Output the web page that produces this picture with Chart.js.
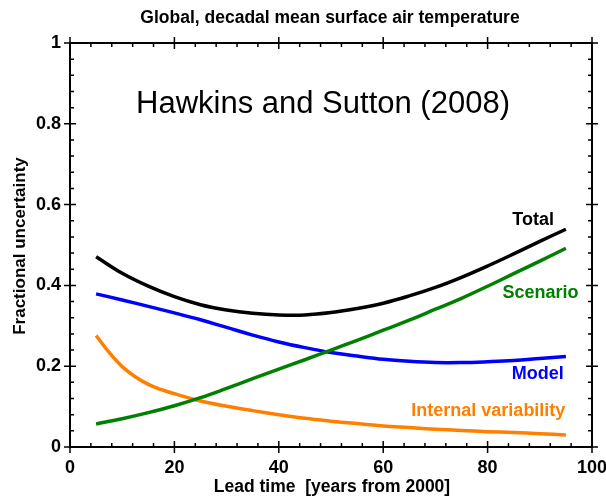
<!DOCTYPE html>
<html><head><meta charset="utf-8">
<script src="https://cdn.jsdelivr.net/npm/chart.js@4/dist/chart.umd.min.js"></script>
<style>html,body{margin:0;padding:0;background:#fff}canvas{display:block}</style>
</head><body>
<canvas id="c" width="606" height="499"></canvas>
<script>
// ---- data ----
const years    = [5,10,15,20,25,30,35,40,45,50,55,60,65,70,75,80,85,90,95];
const total    = [0.471,0.430,0.398,0.372,0.352,0.339,0.331,0.327,0.327,0.333,0.343,0.356,0.374,0.395,0.420,0.448,0.478,0.509,0.539];
const model    = [0.379,0.364,0.348,0.332,0.315,0.296,0.277,0.260,0.246,0.234,0.225,0.217,0.212,0.209,0.209,0.211,0.214,0.219,0.224];
const scenario = [0.057,0.070,0.085,0.102,0.122,0.145,0.169,0.193,0.216,0.240,0.264,0.289,0.314,0.341,0.368,0.398,0.429,0.460,0.492];
const internalYears = [5,7.5,10,12.5,15,17.5,20,25,30,35,40,45,50,55,60,65,70,75,80,85,90,95];
const internal = [0.276,0.234,0.199,0.174,0.155,0.142,0.132,0.114,0.101,0.090,0.080,0.071,0.064,0.058,0.052,0.048,0.044,0.041,0.038,0.036,0.033,0.030];
const xTicks = [0,20,40,60,80,100];
const yTicks = [0,0.2,0.4,0.6,0.8,1];
const yTickLabels = ['0','0.2','0.4','0.6','0.8','1'];
const seriesNames = ['Total','Scenario','Model','Internal variability'];
const titleText = 'Global, decadal mean surface air temperature';
const noteText = 'Hawkins and Sutton (2008)';
const xTitle = 'Lead time  [years from 2000]';
const yTitle = 'Fractional uncertainty';

// ---- styling ----
const FONT = '"Liberation Sans", Arial, sans-serif';
const colors = {Total:'#000000', Scenario:'#008000', Model:'#0000ff', 'Internal variability':'#ff8000'};
const seriesX = {Total:years, Scenario:years, Model:years, 'Internal variability':internalYears};
const seriesData = {Total:total, Scenario:scenario, Model:model, 'Internal variability':internal};
// label anchors (data coords, right-aligned)
const labelAnchor = {Total:[92.7,0.563], Scenario:[97.4,0.380], Model:[94.6,0.180], 'Internal variability':[94.9,0.089]};

const decor = {
  id:'decor',
  afterDraw(chart){
    const ctx = chart.ctx, a = chart.chartArea, xs = chart.scales.x, ys = chart.scales.y;
    ctx.save();
    ctx.strokeStyle = '#000';
    ctx.lineWidth = 2;
    ctx.strokeRect(a.left, a.top, a.right - a.left, a.bottom - a.top);
    ctx.lineWidth = 1.5;
    ctx.beginPath();
    for (let i = 0; i <= 25; i++) {
      const v = i * 4, px = xs.getPixelForValue(v), major = i % 5 === 0;
      const inn = major ? 6 : 4, out = major ? 6 : 0;
      ctx.moveTo(px, a.bottom + out); ctx.lineTo(px, a.bottom - inn);
      ctx.moveTo(px, a.top - out); ctx.lineTo(px, a.top + inn);
    }
    for (let i = 0; i <= 25; i++) {
      const v = i * 0.04, py = ys.getPixelForValue(v), major = i % 5 === 0;
      const inn = major ? 6 : 4, out = major ? 6 : 0;
      ctx.moveTo(a.left - out, py); ctx.lineTo(a.left + inn, py);
      ctx.moveTo(a.right + out, py); ctx.lineTo(a.right - inn, py);
    }
    ctx.stroke();

    ctx.fillStyle = '#000';
    ctx.textAlign = 'center'; ctx.textBaseline = 'middle';
    ctx.font = 'bold 17.5px ' + FONT;
    ctx.fillText(titleText, 330, 18);
    ctx.fillText(xTitle, 332, 487);
    ctx.save();
    ctx.translate(20, 246); ctx.rotate(-Math.PI/2);
    ctx.font = 'bold 17px ' + FONT;
    ctx.fillText(yTitle, 0, 0);
    ctx.restore();
    ctx.font = '31px ' + FONT;
    ctx.fillText(noteText, 323, 104);

    ctx.textAlign = 'right';
    ctx.font = 'bold 18px ' + FONT;
    seriesNames.forEach(n => {
      const [lx, ly] = labelAnchor[n];
      ctx.fillStyle = colors[n];
      ctx.fillText(n, xs.getPixelForValue(lx), ys.getPixelForValue(ly));
    });
    ctx.restore();
  }
};

const tickFont = {family: FONT, size: 18, weight: 'bold'};
new Chart(document.getElementById('c'), {
  type: 'line',
  data: {
    datasets: seriesNames.map(n => ({
      label: n,
      data: seriesX[n].map((x, i) => ({x, y: seriesData[n][i]})),
      borderColor: colors[n],
      borderWidth: 3.5,
      pointRadius: 0,
      fill: false,
      tension: 0.4
    }))
  },
  options: {
    responsive: false,
    animation: false,
    layout: {padding: {top: 43, right: 14, left: 0, bottom: 0}},
    plugins: {legend: {display: false}, tooltip: {enabled: false}, title: {display: false}},
    scales: {
      x: {
        type: 'linear', min: 0, max: 100,
        afterBuildTicks(s){ s.ticks = xTicks.map(v => ({value: v})); },
        afterFit(s){ s.height = 52; s.paddingLeft = 0; s.paddingRight = 0; },
        grid: {display: false, drawTicks: false},
        border: {display: false},
        ticks: {padding: 10, font: tickFont, color: '#000', maxRotation: 0, autoSkip: false,
                callback: (v) => String(v)}
      },
      y: {
        type: 'linear', min: 0, max: 1,
        afterBuildTicks(s){ s.ticks = yTicks.map(v => ({value: v})); },
        afterFit(s){ s.width = 70; s.paddingTop = 0; s.paddingBottom = 0; },
        grid: {display: false, drawTicks: false},
        border: {display: false},
        ticks: {padding: 9, font: tickFont, color: '#000', autoSkip: false,
                callback: (v, i) => yTickLabels[i]}
      }
    }
  },
  plugins: [decor]
});
</script>
</body></html>
